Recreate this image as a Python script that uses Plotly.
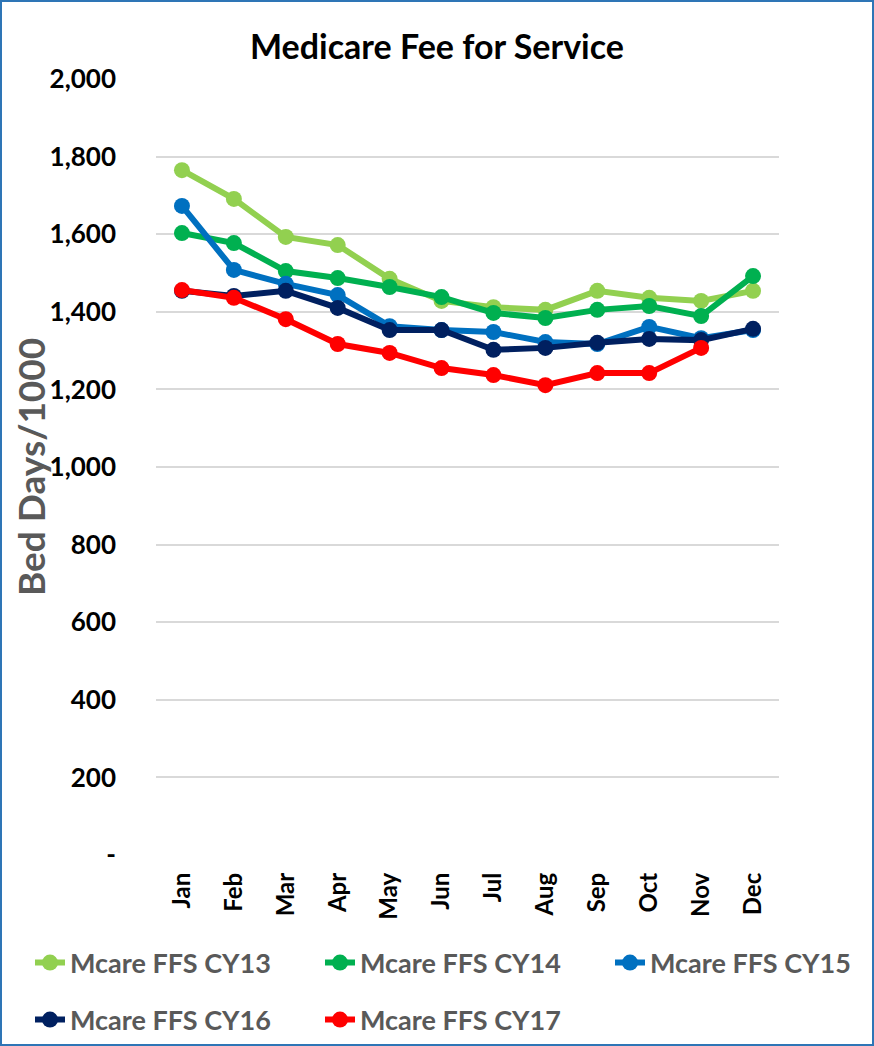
import plotly.graph_objects as go

months = ["Jan", "Feb", "Mar", "Apr", "May", "Jun", "Jul", "Aug", "Sep", "Oct", "Nov", "Dec"]
cy13 = [1765, 1691, 1593, 1572, 1485, 1428, 1412, 1405, 1454, 1436, 1428, 1454]
cy14 = [1603, 1577, 1505, 1487, 1464, 1438, 1397, 1384, 1405, 1415, 1389, 1492]
cy15 = [1673, 1508, 1472, 1443, 1363, 1353, 1348, 1322, 1317, 1361, 1332, 1353]
cy16 = [1454, 1441, 1454, 1410, 1353, 1353, 1302, 1307, 1320, 1330, 1327, 1356]
cy17 = [1456, 1436, 1381, 1317, 1294, 1255, 1237, 1211, 1242, 1242, 1307, None]

series_names = ["Mcare FFS CY13", "Mcare FFS CY14", "Mcare FFS CY15", "Mcare FFS CY16", "Mcare FFS CY17"]
series_vals = [cy13, cy14, cy15, cy16, cy17]
colors = ["#92D050", "#00B050", "#0070C0", "#002060", "#FF0000"]

ytick_vals = [0, 200, 400, 600, 800, 1000, 1200, 1400, 1600, 1800, 2000]
ytick_text = ["-", "200", "400", "600", "800", "1,000", "1,200", "1,400", "1,600", "1,800", "2,000"]

W, H = 874, 1046
ML, MR, MT, MB = 156, 95, 79, 191
PW, PH = W - ML - MR, H - MT - MB

# legend entry positions in pixels (left x, center y)
legend_pos = [(30, 963), (320, 963), (610, 963), (30, 1020), (320, 1020)]

FONT = "Lato"

fig = go.Figure()
legends = {}
for i, (name, vals, col) in enumerate(zip(series_names, series_vals, colors)):
    lid = "legend" if i == 0 else f"legend{i + 1}"
    fig.add_trace(go.Scatter(
        x=months, y=vals, name=name, mode="lines+markers",
        line=dict(color=col, width=6),
        marker=dict(color=col, size=16),
        legend=lid, showlegend=True,
    ))
    px, py = legend_pos[i]
    legends[lid] = dict(
        orientation="h",
        font=dict(family=FONT, size=27, color="#595959", weight="bold"),
        bgcolor="rgba(0,0,0,0)",
        xanchor="left", yanchor="middle",
        x=(px - ML) / PW, y=-(py - (MT + PH)) / PH,
        itemwidth=30,
    )

fig.update_layout(
    width=W, height=H,
    showlegend=True,
    margin=dict(l=ML, r=MR, t=MT, b=MB, autoexpand=False),
    paper_bgcolor="white", plot_bgcolor="white",
    title=dict(text="<b>Medicare Fee for Service</b>", x=0.5, xanchor="center",
               y=1 - 47 / H, yanchor="middle",
               font=dict(family=FONT, size=34, color="black")),
    xaxis=dict(
        type="category", showgrid=False, zeroline=False, showline=False,
        tickangle=-90, ticks="",
        tickfont=dict(family=FONT, size=24, color="black", weight="bold"),
        ticklabelstandoff=12,
        range=[-0.5, 11.5],
    ),
    yaxis=dict(
        range=[0, 2000], tickvals=ytick_vals, ticktext=ytick_text,
        showgrid=True, gridcolor="#D9D9D9", gridwidth=1.5, zeroline=False,
        tickfont=dict(family=FONT, size=26, color="black", weight="bold"),
        ticklabelstandoff=39,
    ),
    annotations=[dict(
        text="<b>Bed Days/1000</b>", textangle=-90,
        xref="paper", yref="paper", x=(30 - ML) / PW, y=0.5,
        xanchor="center", yanchor="middle", showarrow=False,
        font=dict(family=FONT, size=37, color="#595959"),
    )],
    shapes=[dict(
        type="rect", xref="paper", yref="paper",
        x0=-(ML - 1) / PW, x1=1 + (MR - 1) / PW,
        y0=-(MB - 1) / PH, y1=1 + (MT - 1) / PH,
        line=dict(color="#2E75B6", width=2), fillcolor="rgba(0,0,0,0)", layer="below",
    )],
    **legends,
)

fig.write_html("out.html", config={"displayModeBar": False},
               post_script="document.body.style.margin='0';document.body.style.overflow='hidden';")
